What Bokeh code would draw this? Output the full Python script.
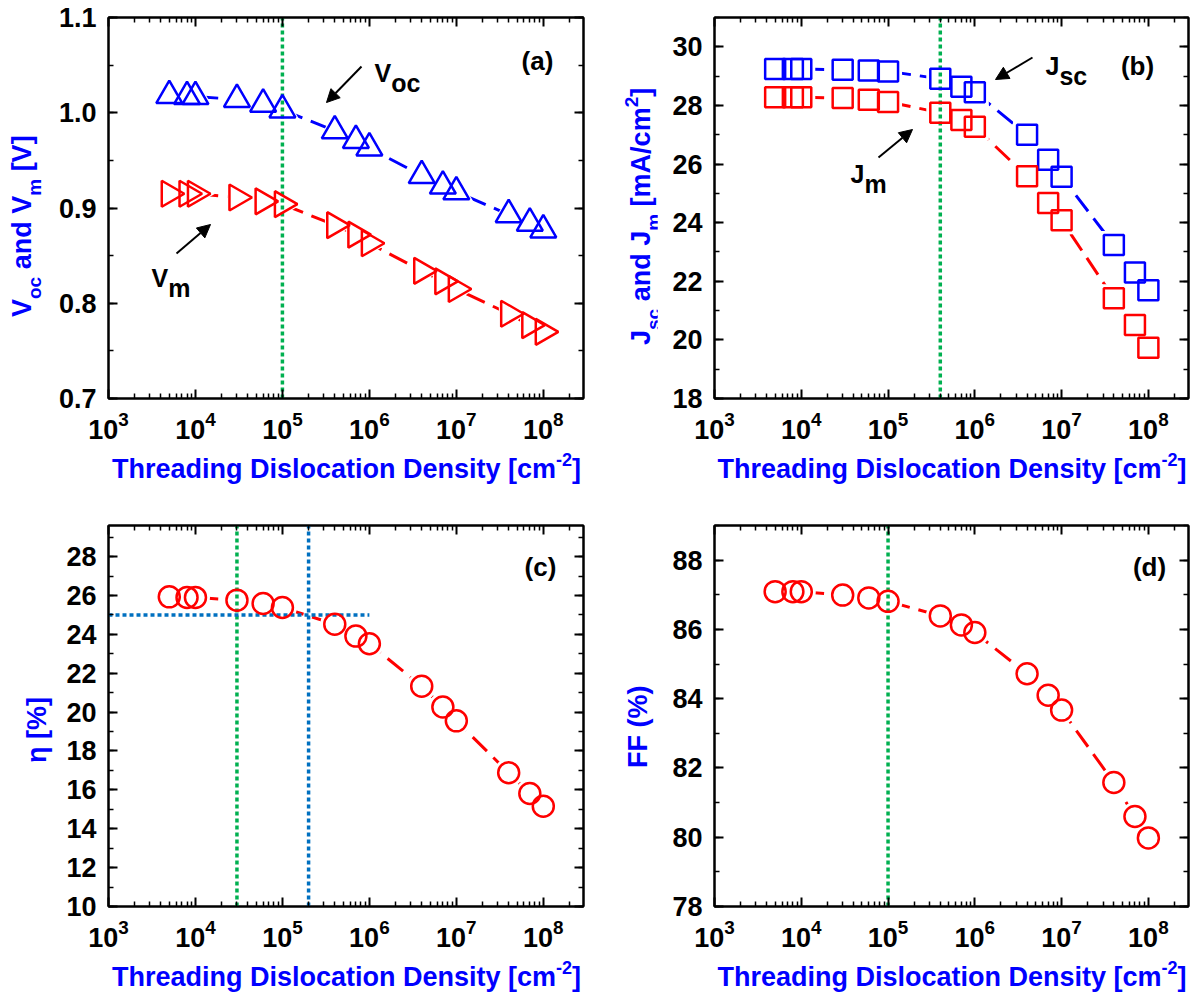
import math
from bokeh.plotting import figure
from bokeh.layouts import column, row
from bokeh.models import (Range1d, LogAxis, LinearAxis, FixedTicker, SingleIntervalTicker,
                          Label, Arrow, NormalHead, PrintfTickFormatter, LogTickFormatter, Div)
from bokeh.embed import file_html
from bokeh.resources import INLINE

# ---- data -------------------------------------------------------------
density = [5e3, 8e3, 1e4, 3e4, 6e4, 1e5, 4e5, 7e5, 1e6, 4e6, 7e6, 1e7, 4e7, 7e7, 1e8]
voc = [1.018, 1.017, 1.017, 1.014, 1.009, 1.003, 0.981, 0.971, 0.963, 0.934, 0.923, 0.917, 0.893, 0.884, 0.877]
vm = [0.915, 0.915, 0.915, 0.911, 0.907, 0.904, 0.882, 0.872, 0.863, 0.834, 0.823, 0.815, 0.789, 0.777, 0.770]
jsc = [29.24, 29.24, 29.24, 29.22, 29.19, 29.16, 28.91, 28.64, 28.45, 27.00, 26.15, 25.57, 23.24, 22.30, 21.69]
jm = [28.28, 28.28, 28.28, 28.25, 28.19, 28.12, 27.75, 27.50, 27.27, 25.58, 24.67, 24.08, 21.42, 20.51, 19.73]
eta = [25.93, 25.90, 25.90, 25.76, 25.59, 25.38, 24.52, 23.91, 23.52, 21.33, 20.26, 19.55, 16.88, 15.81, 15.16]
ff = [87.09, 87.09, 87.09, 86.99, 86.91, 86.81, 86.39, 86.13, 85.91, 84.72, 84.10, 83.67, 81.58, 80.60, 79.98]

# reference densities / levels marked with dotted lines
tdd_a = 1e5
tdd_b = 4e5
tdd_c_green = 3e4
tdd_c_blue = 2e5
eta_level = 25.0
eta_level_end = 1e6
tdd_d = 1e5

decades = [1e3, 1e4, 1e5, 1e6, 1e7, 1e8]

# ---- styling ----------------------------------------------------------
FONT = "Liberation Sans"
RED = "#FF0000"
BLUE = "#0000FF"
GREEN = "#00B050"
DOTBLUE = "#0070C0"
X_MIN, X_MAX = 1e3, 2.9e8
CSS_FONT = "font-family:'Liberation Sans',Arial,sans-serif;font-weight:bold;"


def sub(txt, size=19, shift=10):
    return f'<span style="font-size:{size}px;position:relative;top:{shift}px;">{txt}</span>'


class Panel:
    def __init__(self, left, top, width, height, fl, fr, ft, fb, y0, y1, step, fmt):
        self.left, self.top = left, top
        self.L, self.R, self.T, self.B = fl, fr, ft, fb
        self.y0, self.y1 = y0, y1
        p = figure(width=width, height=height, x_axis_type="log",
                   x_range=Range1d(X_MIN, X_MAX), y_range=Range1d(y0, y1),
                   output_backend="svg", toolbar_location=None,
                   min_border_left=fl - left, min_border_right=left + width - fr,
                   min_border_top=ft - top, min_border_bottom=top + height - fb)
        p.grid.visible = False
        p.outline_line_color = "black"
        p.outline_line_width = 2
        p.background_fill_color = "white"
        p.border_fill_color = "white"
        bottom_ax = p.below[0]
        left_ax = p.left[0]

        minors = [d * k for d in [1e2] + decades for k in range(2, 10)]
        xt = FixedTicker(ticks=decades, minor_ticks=minors)
        yt = SingleIntervalTicker(interval=step, num_minor_ticks=2)
        top_ax = LogAxis(ticker=xt)
        right_ax = LinearAxis(ticker=yt)
        p.add_layout(top_ax, "above")
        p.add_layout(right_ax, "right")
        bottom_ax.ticker = xt
        left_ax.ticker = yt
        for ax in (bottom_ax, left_ax, top_ax, right_ax):
            ax.axis_line_width = 2
            ax.major_tick_in = 9
            ax.major_tick_out = 0
            ax.minor_tick_in = 5
            ax.minor_tick_out = 0
            ax.major_tick_line_width = 2
            ax.minor_tick_line_width = 1.5
            ax.major_label_text_font = FONT
            ax.major_label_text_font_style = "bold"
            ax.major_label_text_font_size = "27px"
            ax.major_label_text_color = "black"
        bottom_ax.formatter = LogTickFormatter()
        bottom_ax.major_label_standoff = 12
        left_ax.major_label_standoff = 12
        left_ax.formatter = PrintfTickFormatter(format=fmt)
        for ax in (top_ax, right_ax):
            ax.major_label_text_font_size = "1px"
            ax.major_label_text_alpha = 0
            ax.major_label_standoff = 0
        self.p = p
        self.dec = (fr - fl) / math.log10(X_MAX / X_MIN)

    def data(self, px, py):
        x = X_MIN * 10 ** ((px - self.L) / self.dec)
        y = self.y1 - (py - self.T) / (self.B - self.T) * (self.y1 - self.y0)
        return x, y

    def text(self, px, py, txt, size, color, align="left", baseline="alphabetic"):
        # page pixel position -> this figure's canvas position
        self.p.add_layout(Label(x=px - self.left, y=py - self.top,
                                x_units="canvas", y_units="canvas", level="overlay",
                                text=txt, text_font=FONT, text_font_style="bold",
                                text_font_size=f"{size}px", text_color=color,
                                text_align=align, text_baseline=baseline))

    def rich(self, px, py, pieces, color):
        cur = px
        for txt, size, shift in pieces:
            self.text(cur, py + shift, txt, size, color)
            cur += size * sum({'V': .667, 'J': .556, 'o': .611, 'c': .556, 's': .556,
                               'm': .889}.get(ch, .6) for ch in txt)

    def tag(self, cx, cy, txt):
        self.text(cx, cy, txt, 26, "black", align="center", baseline="middle")

    def arrow(self, x0, y0, x1, y1):
        xs, ys = self.data(x0, y0)
        xe, ye = self.data(x1, y1)
        self.p.add_layout(Arrow(x_start=xs, y_start=ys, x_end=xe, y_end=ye, line_width=2,
                                line_color="black",
                                end=NormalHead(size=13, fill_color="black", line_color="black")))

    def vline(self, xv, color):
        self.p.line([xv, xv], [self.y0, self.y1], line_color=color, line_width=3.5,
                    line_dash="4 3")

    def xtitle(self, height, baseline):
        # blue axis title under the frame, centred on it
        w = self.p.width
        shift = (self.L + self.R) / 2 + 1 - (self.left + w / 2)
        html = (f'<div style="position:relative;width:{w}px;height:{height}px;overflow:visible;">'
                f'<div style="position:absolute;left:{shift:.1f}px;top:{baseline - 23}px;width:{w}px;'
                f'text-align:center;white-space:nowrap;{CSS_FONT}font-size:27px;line-height:27px;'
                f'color:{BLUE};">Threading Dislocation Density [cm{sub("-2", 18, -12)}]</div></div>')
        return Div(text=html, width=w, height=height, margin=0)


def ylabel(width, height, base_x, bottom_y, inner):
    # rotated blue axis title; text starts at bottom_y and runs upwards
    html = (f'<div style="position:relative;width:{width}px;height:{height}px;overflow:visible;">'
            f'<div style="position:absolute;left:{base_x - 23}px;top:{bottom_y}px;'
            'transform:rotate(-90deg);transform-origin:0 0;white-space:nowrap;'
            f'{CSS_FONT}font-size:27px;line-height:27px;color:{BLUE};">{inner}</div></div>')
    return Div(text=html, width=width, height=height, margin=0)


def series(pan, ys, color, marker, size, angle=0.0, gap=8):
    p = pan.p
    p.line(density, ys, line_color=color, line_width=3, line_dash="20 9")
    p.scatter(density, ys, marker=marker, size=size + gap, angle=angle,
              fill_color="white", line_color=None)


def outline(pan, ys, color, marker, size, angle=0.0):
    pan.p.scatter(density, ys, marker=marker, size=size, angle=angle,
                  fill_color=None, line_color=color, line_width=2.5)


# ---- (a) Voc and Vm ---------------------------------------------------------
pa = Panel(50, 0, 545, 455, 108, 583, 17, 398, 0.7, 1.1, 0.1, "%.1f")
series(pa, voc, BLUE, "triangle", 26)
series(pa, vm, RED, "triangle", 26, angle=-math.pi / 2)
pa.vline(tdd_a, GREEN)
outline(pa, voc, BLUE, "triangle", 26)
outline(pa, vm, RED, "triangle", 26, angle=-math.pi / 2)
pa.tag(537, 60, "(a)")
pa.rich(374, 72, [("V", 25, 0), ("oc", 25, 10)], "black")
pa.arrow(361, 66, 326, 102)
pa.rich(151, 277, [("V", 25, 0), ("m", 25, 10)], "black")
pa.arrow(176, 253, 210, 224)
ya = ylabel(50, 500, 32, 317, f'V{sub("oc")} and V{sub("m")} [V]')
xa = pa.xtitle(45, 479 - 455)

# ---- (b) Jsc and Jm ---------------------------------------------------------
pb = Panel(657, 0, 534, 455, 714, 1188, 17, 398, 18, 31, 2, "%d")
series(pb, jsc, BLUE, "square", 20)
series(pb, jm, RED, "square", 20)
pb.vline(tdd_b, GREEN)
outline(pb, jsc, BLUE, "square", 20)
outline(pb, jm, RED, "square", 20)
pb.tag(1137, 65, "(b)")
pb.rich(1045, 65, [("J", 25, 0), ("sc", 25, 10)], "black")
pb.arrow(1032, 57, 995, 79)
pb.rich(850, 173, [("J", 25, 0), ("m", 25, 10)], "black")
pb.arrow(878, 157, 912, 129)
yb = ylabel(62, 500, 651 - 595, 345,
            f'J{sub("sc")} and J{sub("m")} [mA/cm{sub("2", 19, -12)}]')
xb = pb.xtitle(45, 479 - 455)

# ---- (c) efficiency ---------------------------------------------------------
pc = Panel(60, 500, 535, 463, 108, 583, 525, 906, 10, 29.6, 2, "%d")
series(pc, eta, RED, "circle", 21)
pc.vline(tdd_c_green, GREEN)
pc.vline(tdd_c_blue, DOTBLUE)
pc.p.line([X_MIN, eta_level_end], [eta_level, eta_level], line_color=DOTBLUE, line_width=3.5,
          line_dash="4 3")
outline(pc, eta, RED, "circle", 21)
pc.tag(540, 566, "(c)")
yc = ylabel(60, 497, 47, 763 - 500, "η [%]")
xc = pc.xtitle(34, 987 - 963)

# ---- (d) fill factor --------------------------------------------------------
pd_ = Panel(657, 500, 534, 463, 714, 1188, 525, 906, 78, 89, 2, "%d")
series(pd_, ff, RED, "circle", 21)
pd_.vline(tdd_d, GREEN)
outline(pd_, ff, RED, "circle", 21)
pd_.tag(1149, 566, "(d)")
yd = ylabel(62, 497, 648 - 595, 768 - 500, "FF (%)")
xd = pd_.xtitle(34, 987 - 963)

layout = column(
    row(ya, column(pa.p, xa), yb, column(pb.p, xb)),
    row(yc, column(pc.p, xc), yd, column(pd_.p, xd)),
)
open("out.html", "w").write(file_html(layout, INLINE))
